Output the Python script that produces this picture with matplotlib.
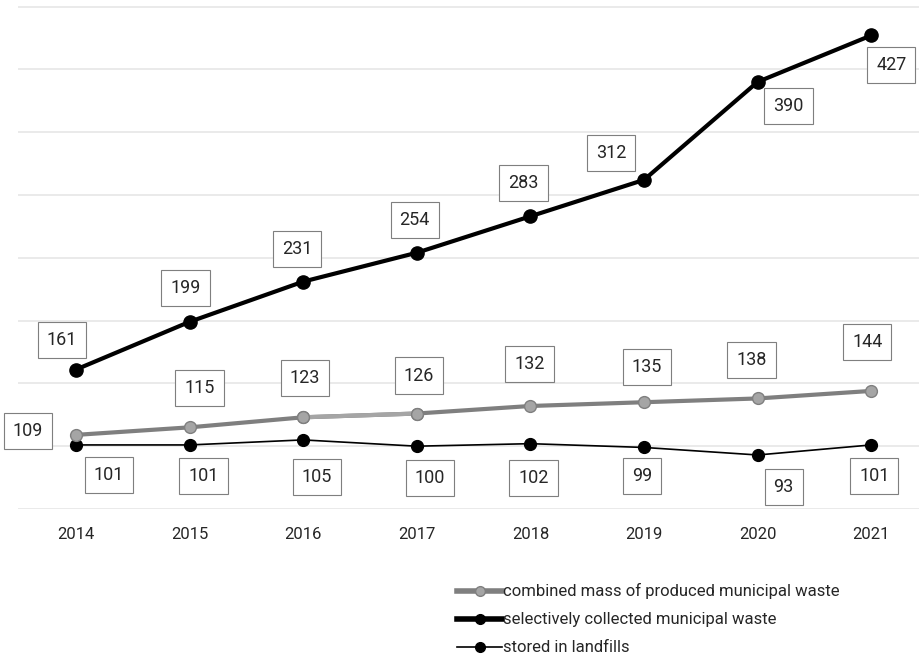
import matplotlib.pyplot as plt
from matplotlib.lines import Line2D
from matplotlib import font_manager

# pick a narrow sans if one is installed
family = ['DejaVu Sans']
for name in ['Liberation Sans Narrow', 'Roboto', 'Liberation Sans']:
    try:
        font_manager.findfont(name, fallback_to_default=False)
        family = [name, 'DejaVu Sans']
        break
    except ValueError:
        pass
plt.rcParams['font.family'] = family

years = ['2014', '2015', '2016', '2017', '2018', '2019', '2020', '2021']
combined = [109, 115, 123, 126, 132, 135, 138, 144]
selective = [161, 199, 231, 254, 283, 312, 390, 427]
landfill = [101, 101, 105, 100, 102, 99, 93, 101]

# label offsets in pixels (dx, dy) for each point
off_combined = [(-48, 4), (10, 39), (2, 39), (2, 38), (-1, 42), (3, 35), (-6, 38), (-4, 49)]
off_selective = [(-14, 30), (-4, 34), (-6, 33), (-2, 33), (-7, 33), (-33, 27), (31, -24), (20, -30)]
off_landfill = [(33, -30), (14, -31), (14, -37), (13, -32), (3, -34), (-2, -29), (26, -32), (3, -31)]

dark = '#7f7f7f'
light = '#a5a5a5'

fig = plt.figure(figsize=(9.19, 6.6), dpi=100)
ax = fig.add_axes([18 / 919, 1 - 509 / 660, 901 / 919, 505 / 660])

x = list(range(len(years)))

ax.plot(x, landfill, color='black', lw=1.2, marker='o', ms=8.5, zorder=3)
ax.plot(x, combined, color=dark, lw=3, marker='o', ms=8.5,
        mfc=light, mec=dark, mew=1, zorder=3)
# lighter segment between 2016 and 2017
ax.plot(x[2:4], combined[2:4], color=light, lw=3, zorder=3)
ax.plot(x[2:4], combined[2:4], ls='none', marker='o', ms=8.5,
        mfc=light, mec=dark, mew=1, zorder=4)
ax.plot(x, selective, color='black', lw=3, marker='o', ms=9.5, zorder=3)

box = dict(boxstyle='square,pad=0.5', fc='white', ec='#7f7f7f', lw=0.8)
for series, offs in [(combined, off_combined), (selective, off_selective),
                     (landfill, off_landfill)]:
    for xi, v, (dx, dy) in zip(x, series, offs):
        ax.annotate(str(v), (xi, v), xytext=(dx, dy), textcoords='offset pixels',
                    ha='center', va='center', fontsize=13, color='#262626',
                    bbox=box, zorder=5)

ax.set_xlim(-0.51, 7.42)
ax.set_ylim(50, 452)
ax.set_yticks(range(50, 451, 50))
ax.set_yticklabels([])
ax.set_xticks(x)
ax.set_xticklabels(years, fontsize=12, color='#262626')
ax.tick_params(length=0, pad=13)
ax.grid(axis='y', color='#e6e6e6', lw=1.2)
for s in ax.spines.values():
    s.set_visible(False)
ax.set_axisbelow(True)

handles = [
    Line2D([], [], color=dark, lw=4, marker='o', ms=7, mfc=light, mec=dark),
    Line2D([], [], color='black', lw=4, marker='o', ms=7),
    Line2D([], [], color='black', lw=1.2, marker='o', ms=7),
]
labels = ['combined mass of produced municipal waste',
          'selectively collected municipal waste',
          'stored in landfills']
fig.legend(handles, labels, loc='upper left', bbox_to_anchor=(449 / 919, 1 - 575 / 660),
           frameon=False, fontsize=12, handlelength=2.7, handletextpad=0.05,
           labelspacing=0.78, labelcolor='#262626', borderpad=0)

fig.savefig('out.png', dpi=100)
